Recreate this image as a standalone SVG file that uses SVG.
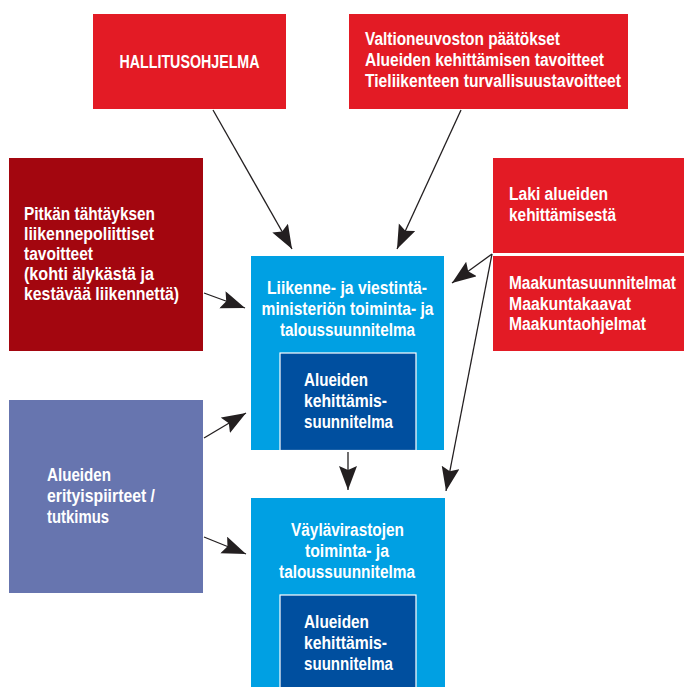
<svg xmlns="http://www.w3.org/2000/svg" width="684" height="687" viewBox="0 0 684 687">
<style>
.t{font-family:"Liberation Sans",Arial,sans-serif;font-weight:bold;font-size:18px;fill:#fff}
.c{text-anchor:middle}
.red{fill:#E31B25}
.dred{fill:#A3060F}
.lil{fill:#6775AF}
.lb{fill:#00A0E3}
.db{fill:#004F9F;stroke:#fff;stroke-width:1.2}
.ln{stroke:#231F20;stroke-width:1.3;fill:none}
</style>
<defs>
<marker id="ah" markerUnits="userSpaceOnUse" markerWidth="26" markerHeight="20" refX="24" refY="9" orient="auto">
<path d="M0,0 L24,9 L0,18 L4,9 Z" fill="#231F20"/>
</marker>
</defs>
<g id="hallitusohjelma">
<rect class="red" x="93" y="14" width="193" height="95"/>
<text class="t c" x="189.5" y="68" textLength="140" lengthAdjust="spacingAndGlyphs">HALLITUSOHJELMA</text>
</g>
<g id="valtioneuvosto">
<rect class="red" x="349" y="14" width="279" height="95"/>
<text class="t" x="365" y="45" textLength="195" lengthAdjust="spacingAndGlyphs">Valtioneuvoston päätökset</text>
<text class="t" x="365" y="66" textLength="239" lengthAdjust="spacingAndGlyphs">Alueiden kehittämisen tavoitteet</text>
<text class="t" x="365" y="87" textLength="256" lengthAdjust="spacingAndGlyphs">Tieliikenteen turvallisuustavoitteet</text>
</g>
<g id="pitkan">
<rect class="dred" x="9" y="158" width="194" height="193"/>
<text class="t" x="24" y="220" textLength="131" lengthAdjust="spacingAndGlyphs">Pitkän tähtäyksen</text>
<text class="t" x="24" y="240" textLength="130" lengthAdjust="spacingAndGlyphs">liikennepoliittiset</text>
<text class="t" x="24" y="260" textLength="69" lengthAdjust="spacingAndGlyphs">tavoitteet</text>
<text class="t" x="24" y="280" textLength="130" lengthAdjust="spacingAndGlyphs">(kohti älykästä ja</text>
<text class="t" x="24" y="300" textLength="155" lengthAdjust="spacingAndGlyphs">kestävää liikennettä)</text>
</g>
<g id="laki">
<rect class="red" x="493" y="158" width="191" height="95"/>
<text class="t" x="509" y="200" textLength="99" lengthAdjust="spacingAndGlyphs">Laki alueiden</text>
<text class="t" x="509" y="221" textLength="107" lengthAdjust="spacingAndGlyphs">kehittämisestä</text>
</g>
<g id="maakunta">
<rect class="red" x="493" y="256" width="191" height="95"/>
<text class="t" x="509" y="289" textLength="167" lengthAdjust="spacingAndGlyphs">Maakuntasuunnitelmat</text>
<text class="t" x="509" y="310" textLength="122" lengthAdjust="spacingAndGlyphs">Maakuntakaavat</text>
<text class="t" x="509" y="330" textLength="137" lengthAdjust="spacingAndGlyphs">Maakuntaohjelmat</text>
</g>
<g id="erityispiirteet">
<rect class="lil" x="9" y="400" width="194" height="193"/>
<text class="t" x="47" y="481" textLength="64" lengthAdjust="spacingAndGlyphs">Alueiden</text>
<text class="t" x="47" y="502" textLength="108" lengthAdjust="spacingAndGlyphs">erityispiirteet /</text>
<text class="t" x="47" y="523" textLength="62" lengthAdjust="spacingAndGlyphs">tutkimus</text>
</g>
<g id="lvm">
<rect class="lb" x="251" y="256" width="193" height="194"/>
<text class="t c" x="347" y="294" textLength="160" lengthAdjust="spacingAndGlyphs">Liikenne- ja viestintä-</text>
<text class="t c" x="347.5" y="315" textLength="172" lengthAdjust="spacingAndGlyphs">ministeriön toiminta- ja</text>
<text class="t c" x="347.5" y="336" textLength="135" lengthAdjust="spacingAndGlyphs">taloussuunnitelma</text>
<rect class="db" x="280" y="353" width="136" height="97.5"/>
<text class="t" x="304" y="386" textLength="64" lengthAdjust="spacingAndGlyphs">Alueiden</text>
<text class="t" x="304" y="407" textLength="83" lengthAdjust="spacingAndGlyphs">kehittämis-</text>
<text class="t" x="304" y="428" textLength="89" lengthAdjust="spacingAndGlyphs">suunnitelma</text>
</g>
<g id="vaylavirastot">
<rect class="lb" x="251" y="498" width="194" height="190"/>
<text class="t c" x="347.5" y="536" textLength="113" lengthAdjust="spacingAndGlyphs">Väylävirastojen</text>
<text class="t c" x="347" y="557" textLength="84" lengthAdjust="spacingAndGlyphs">toiminta- ja</text>
<text class="t c" x="347" y="578" textLength="136" lengthAdjust="spacingAndGlyphs">taloussuunnitelma</text>
<rect class="db" x="280" y="595" width="136" height="93"/>
<text class="t" x="304" y="628" textLength="65" lengthAdjust="spacingAndGlyphs">Alueiden</text>
<text class="t" x="304" y="649" textLength="83" lengthAdjust="spacingAndGlyphs">kehittämis-</text>
<text class="t" x="304" y="670" textLength="89" lengthAdjust="spacingAndGlyphs">suunnitelma</text>
</g>
<g id="connectors">
<line class="ln" x1="213" y1="110" x2="292" y2="249" marker-end="url(#ah)"/>
<line class="ln" x1="461" y1="110" x2="397" y2="249" marker-end="url(#ah)"/>
<line class="ln" x1="204" y1="293" x2="245" y2="308" marker-end="url(#ah)"/>
<line class="ln" x1="492" y1="254" x2="452" y2="283" marker-end="url(#ah)"/>
<line class="ln" x1="492" y1="254" x2="446" y2="491" marker-end="url(#ah)"/>
<line class="ln" x1="204" y1="438" x2="246" y2="413" marker-end="url(#ah)"/>
<line class="ln" x1="204" y1="537" x2="246" y2="554" marker-end="url(#ah)"/>
<line class="ln" x1="348" y1="452" x2="348" y2="490" marker-end="url(#ah)"/>
</g>
</svg>
